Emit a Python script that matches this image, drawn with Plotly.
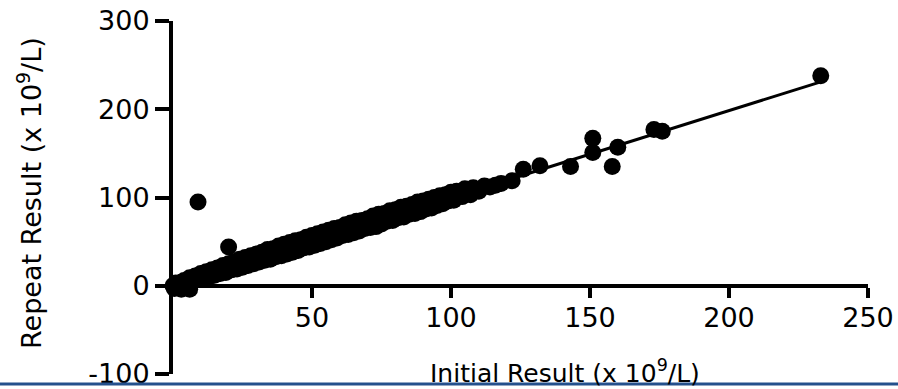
import plotly.graph_objects as go

# Dense band of paired results (initial vs repeat), x 10^9/L
initial = [0, 0.5, 1, 1.5, 2, 3, 3, 4, 5, 6, 6, 7, 8, 9, 10, 11, 12, 13, 14, 15,
           16, 17, 18, 19, 20, 21, 22, 23, 24, 25, 26, 27, 28, 29, 30, 31, 32, 33,
           34, 35, 36, 37, 38, 39, 40, 41, 42, 43, 44, 45, 46, 47, 48, 49, 50, 51,
           52, 53, 54, 55, 56, 57, 58, 59, 60, 61, 62, 63, 64, 65, 66, 67, 68, 69,
           70, 71, 72, 73, 74, 75, 76, 77, 78, 79, 80, 81, 82, 83, 84, 85, 86, 87,
           88, 89, 90, 91, 92, 93, 94, 95, 96, 97, 98, 99, 100, 101, 102, 104, 105,
           107, 108, 110, 112, 114, 116, 118,
           9, 20, 122, 126, 132, 143, 151, 151, 158, 160, 173, 176, 233]
repeat = [0, -3, 3, 1, -2, 4, -4, 6, 3, -4, 9, 5, 11, 7, 14, 8, 16, 10, 18, 12,
          20, 14, 23, 15, 25, 18, 27, 19, 30, 21, 32, 23, 34, 25, 36, 27, 38, 29,
          41, 30, 42, 33, 45, 34, 47, 36, 49, 38, 51, 40, 52, 43, 55, 44, 57, 46,
          59, 48, 61, 50, 63, 52, 65, 54, 66, 57, 69, 58, 71, 60, 73, 62, 74, 65,
          76, 66, 79, 67, 81, 70, 82, 73, 85, 74, 86, 77, 89, 78, 90, 81, 92, 82,
          95, 84, 96, 87, 98, 88, 100, 91, 102, 93, 103, 96, 106, 97, 107, 101, 110,
          103, 111, 107, 113, 112, 114, 116,
          95, 44, 119, 132, 136, 135, 151, 167, 135, 157, 177, 175, 238]

# Fitted line end points
fit_x = [0, 233]
fit_y = [1, 231]

x_tickvals = [50, 100, 150, 200, 250]
x_ticktext = ["50", "100", "150", "200", "250"]
y_tickvals = [-100, 0, 100, 200, 300]
y_ticktext = ["-100", "0", "100", "200", "300"]

FONT = "DejaVu Sans"

fig = go.Figure()
fig.add_trace(go.Scatter(x=initial, y=repeat, mode="markers",
                         marker=dict(color="black", size=17, line=dict(width=0)),
                         cliponaxis=False, showlegend=False))
fig.add_trace(go.Scatter(x=fit_x, y=fit_y, mode="lines",
                         line=dict(color="black", width=3),
                         cliponaxis=False, showlegend=False))

fig.update_layout(
    width=898, height=389,
    margin=dict(l=173, r=30, t=21, b=15, autoexpand=False),
    paper_bgcolor="white", plot_bgcolor="white",
    font=dict(family=FONT, color="black"),
    xaxis=dict(range=[0, 250], tickvals=x_tickvals, ticktext=x_ticktext,
               showgrid=False, zeroline=False, showline=True, automargin=False,
               linecolor="black", linewidth=4, ticks="outside", ticklen=10,
               tickwidth=4, tickcolor="black", anchor="free", position=0.25,
               ticklabeloverflow="allow", ticklabelstandoff=-3,
               tickfont=dict(family=FONT, size=27, color="black")),
    yaxis=dict(range=[-100, 300], tickvals=y_tickvals, ticktext=y_ticktext,
               showgrid=False, zeroline=False, showline=True, automargin=False,
               linecolor="black", linewidth=4, ticks="outside", ticklen=14,
               tickwidth=4, tickcolor="black", ticklabeloverflow="allow",
               tickfont=dict(family=FONT, size=27, color="black")),
    annotations=[
        dict(text="Initial Result (x 10<sup>9</sup>/L)", xref="paper", yref="paper",
             x=(702 - 173) / 695, y=(374 - 371) / 353, xanchor="right", yanchor="middle",
             showarrow=False, font=dict(family=FONT, size=25, color="black")),
        dict(text="Repeat Result (x 10<sup>9</sup>/L)", xref="paper", yref="paper",
             x=(29 - 173) / 695, y=(374 - 193) / 353, xanchor="center", yanchor="middle",
             textangle=-90, showarrow=False,
             font=dict(family=FONT, size=27, color="black")),
    ],
    shapes=[dict(type="line", xref="paper", yref="paper",
                 x0=-173 / 695, x1=(898 - 173) / 695,
                 y0=-(384 - 374) / 353, y1=-(384 - 374) / 353,
                 line=dict(color="#24508c", width=3))],
)

fig.write_html("out.html")
